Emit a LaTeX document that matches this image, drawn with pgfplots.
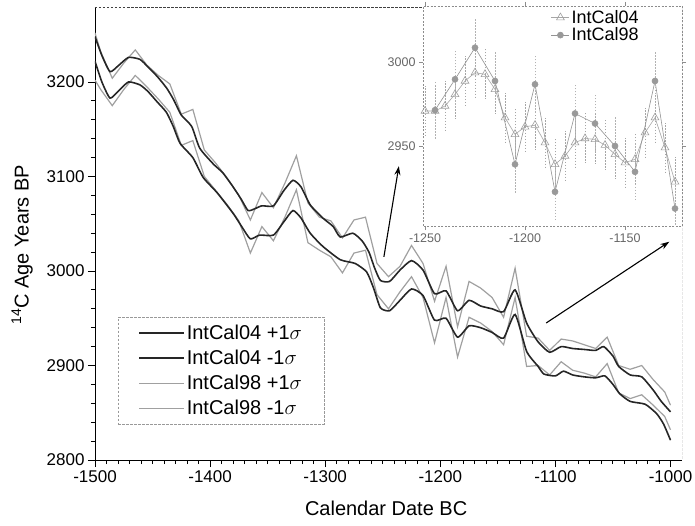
\documentclass[border=0pt]{standalone}
\usepackage{fontspec}
\setmainfont{Liberation Sans}
\usepackage{pgfplots}
\pgfplotsset{compat=1.18}
\usetikzlibrary{arrows.meta}

\definecolor{darkline}{HTML}{262626}
\definecolor{grayline}{HTML}{A0A0A0}
\definecolor{insetgray}{HTML}{8C8C8C}

\begin{document}
\begin{tikzpicture}
\useasboundingbox (-95pt,-65pt) rectangle (600pt,460pt);
\begin{axis}[
  at={(0pt,0pt)}, anchor=south west,
  scale only axis, width=587pt, height=453pt,
  xmin=-1500, xmax=-990, ymin=2800, ymax=3279.4,
  axis lines=left, axis line style={-, black, line width=0.9pt},
  tick align=outside,
  xtick={-1500,-1400,...,-1000},
  ytick={2800,2900,...,3200},
  minor x tick num=9, minor y tick num=4,
  major tick length=7pt, minor tick length=4pt,
  tick style={black, line width=0.9pt},
  minor tick style={black, line width=0.9pt},
  tick label style={font=\fontsize{17}{20}\selectfont},
  /pgf/number format/assume math mode=true,
  /pgf/number format/set thousands separator={},
  xlabel={Calendar Date BC},
  ylabel={\textsuperscript{14}C Age Years BP},
  label style={font=\fontsize{20}{24}\selectfont},
  xlabel style={at={(axis description cs:0.496,-0.106)}, anchor=center},
  ylabel style={at={(axis description cs:-0.124,0.475)}, anchor=center},
  legend style={at={(0.0392,0.3157)}, anchor=north west,
    draw=gray!80, dash pattern=on 2.5pt off 1.5pt,
    font=\fontsize{20}{23}\selectfont, row sep=5pt,
    inner xsep=20pt, inner ysep=6pt, fill=white},
  legend cell align=left,
  legend image code/.code={\draw[#1] (0pt,0pt) -- (45pt,0pt);},
]
% IntCal98 +1 sigma
\addplot[solid, grayline, line width=1.2pt, forget plot] table {
x y
-1500 3252
-1495 3232
-1485 3204
-1475 3220
-1465 3234
-1455 3218
-1445 3207
-1435 3198
-1425 3166
-1415 3171
-1405 3128
-1395 3114
-1385 3098
-1375 3080
-1365 3054
-1355 3083
-1345 3067
-1335 3093
-1325 3122
-1315 3072
-1305 3057
-1295 3053
-1285 3035
-1275 3054
-1265 3057
-1255 3008
-1245 2994
-1235 3005
-1225 3027
-1215 3008
-1205 2968
-1195 3005
-1185 2941
-1175 2989
-1165 2982
-1155 2972
-1145 2951
-1135 3003
-1125 2931
-1115 2929
-1105 2916
-1095 2928
-1085 2926
-1075 2922
-1065 2918
-1055 2930
-1045 2900
-1035 2896
-1025 2900
-1015 2885
-1005 2872
-1000 2858
};
% IntCal98 -1 sigma
\addplot[solid, grayline, line width=1.2pt, forget plot] table {
x y
-1500 3202
-1495 3192
-1485 3175
-1475 3192
-1465 3207
-1455 3195
-1445 3182
-1435 3168
-1425 3133
-1415 3138
-1405 3100
-1395 3085
-1385 3070
-1375 3053
-1365 3019
-1355 3047
-1345 3032
-1335 3057
-1325 3086
-1315 3030
-1305 3022
-1295 3015
-1285 2998
-1275 3019
-1265 3022
-1255 2975
-1245 2960
-1235 2978
-1225 2994
-1215 2972
-1205 2924
-1195 2972
-1185 2909
-1175 2951
-1165 2945
-1155 2936
-1145 2922
-1135 2972
-1125 2899
-1115 2900
-1105 2890
-1095 2904
-1085 2895
-1075 2892
-1065 2888
-1055 2902
-1045 2871
-1035 2865
-1025 2869
-1015 2858
-1005 2846
-1000 2832
};
% IntCal04 +1 sigma
\addplot[solid, darkline, line width=1.6pt, smooth, tension=0.35, forget plot] table {
x y
-1500 3248
-1494 3228
-1487 3211
-1480 3217
-1471 3226
-1461 3224
-1454 3216
-1446 3206
-1438 3194
-1432 3182
-1425 3165
-1416 3153
-1409 3130
-1397 3113
-1389 3104
-1380 3089
-1373 3076
-1367 3064
-1361 3066
-1355 3069
-1345 3069
-1336 3085
-1328 3096
-1321 3089
-1313 3070
-1302 3056
-1293 3047
-1287 3036
-1276 3040
-1268 3032
-1262 3020
-1257 3003
-1252 2990
-1244 2989
-1235 3001
-1225 3011
-1215 3001
-1205 2976
-1195 2979
-1185 2958
-1175 2969
-1165 2963
-1155 2960
-1145 2957
-1135 2980
-1125 2945
-1115 2925
-1105 2914
-1095 2920
-1085 2918
-1075 2917
-1065 2916
-1058 2920
-1050 2910
-1045 2899
-1035 2890
-1025 2888
-1015 2874
-1008 2862
-1000 2851
};
% IntCal04 -1 sigma
\addplot[solid, darkline, line width=1.6pt, smooth, tension=0.35, forget plot] table {
x y
-1500 3222
-1494 3200
-1487 3183
-1480 3190
-1471 3200
-1461 3197
-1454 3190
-1446 3179
-1438 3168
-1432 3153
-1426 3135
-1415 3120
-1406 3099
-1394 3083
-1380 3061
-1372 3046
-1365 3034
-1357 3038
-1345 3038
-1336 3052
-1328 3064
-1321 3056
-1313 3040
-1302 3026
-1287 3012
-1274 3008
-1264 2999
-1258 2982
-1252 2961
-1244 2958
-1235 2969
-1225 2981
-1215 2974
-1205 2948
-1195 2950
-1185 2930
-1175 2942
-1165 2940
-1155 2935
-1145 2929
-1135 2954
-1125 2915
-1115 2899
-1110 2891
-1100 2889
-1093 2894
-1085 2890
-1075 2888
-1065 2887
-1057 2889
-1050 2880
-1044 2870
-1035 2862
-1022 2859
-1012 2849
-1006 2838
-1000 2821
};
\addlegendimage{solid, darkline, line width=1.6pt}
\addlegendentry{IntCal04 +1$\sigma$}
\addlegendimage{solid, darkline, line width=1.6pt}
\addlegendentry{IntCal04 -1$\sigma$}
\addlegendimage{solid, grayline, line width=1.2pt}
\addlegendentry{IntCal98 +1$\sigma$}
\addlegendimage{solid, grayline, line width=1.2pt}
\addlegendentry{IntCal98 -1$\sigma$}
\draw[black!75, dash pattern=on 2.5pt off 1.5pt, line width=0.8pt] (rel axis cs:0,1) -- (rel axis cs:1,1) -- (rel axis cs:1,0);
\draw[-{Stealth[length=9pt,width=6pt]}, line width=1.1pt, black] (axis cs:-1249,3015) -- (axis cs:-1236,3111);
\draw[-{Stealth[length=9pt,width=6pt]}, line width=1.1pt, black] (axis cs:-1108,2945) -- (axis cs:-1001,3031);
\end{axis}

\begin{axis}[
  at={(328pt,234pt)}, anchor=south west,
  scale only axis, width=259pt, height=220pt,
  xmin=-1251, xmax=-1121.5, ymin=2902, ymax=3034,
  axis line style={insetgray, dash pattern=on 2pt off 1.5pt, line width=0.7pt},
  axis background/.style={fill=white},
  xtick={-1250,-1200,-1150}, ytick={2950,3000},
  tick align=outside, major tick length=4pt,
  tick style={insetgray, solid, line width=0.6pt},
  tick label style={font=\fontsize{12.5}{15}\selectfont, text=black!60},
  /pgf/number format/assume math mode=true,
  /pgf/number format/set thousands separator={},
  legend style={at={(0.49,0.995)}, anchor=north west, draw=none, fill=none,
    font=\fontsize{18}{21}\selectfont, row sep=-1pt, inner sep=1pt},
  legend cell align=left,
  legend image code/.code={\draw[mark repeat=2,mark phase=2,#1] plot coordinates {(0pt,0pt) (9pt,0pt) (18pt,0pt)};},
]
\addplot[solid, gray!70, line width=0.6pt, mark=triangle, mark size=4.5pt,
  mark options={solid, fill=white, draw=gray!75, line width=0.6pt},
  error bars/.cd, y dir=both, y explicit, error mark=none,
  error bar style={dash pattern=on 1.5pt off 1.5pt, gray!70, line width=0.6pt}]
  table[x=x, y=y, y error=e] {
x y e
-1250 2971 15
-1245 2971 15
-1240 2974 15
-1235 2981 15
-1230 2989 15
-1225 2994 15
-1220 2993 15
-1215 2984 15
-1210 2967 15
-1205 2957 15
-1200 2961.5 15
-1195 2962.5 15
-1190 2952 15
-1185 2939 15
-1180 2944 15
-1175 2952 15
-1170 2954.5 15
-1165 2954 15
-1160 2950.5 15
-1155 2945 15
-1150 2940 15
-1145 2942 15
-1140 2958 15
-1135 2967 15
-1130 2949 15
-1125 2928.5 15
};
\addlegendentry{IntCal04}
\addplot[solid, gray!85, line width=0.6pt, mark=*, mark size=3pt,
  mark options={solid, fill=gray!80, draw=gray!80},
  error bars/.cd, y dir=both, y explicit, error mark=none,
  error bar style={dash pattern=on 1.5pt off 1.5pt, gray!60, line width=0.6pt}]
  table[x=x, y=y, y error=e] {
x y e
-1245 2971.5 18
-1235 2990 18
-1225 3009 18
-1215 2989 18
-1205 2939 18
-1195 2987 18
-1185 2922.5 18
-1175 2969.5 18
-1165 2963.5 18
-1155 2950 18
-1145 2934.5 18
-1135 2989 18
-1125 2912.5 18
};
\addlegendentry{IntCal98}
\end{axis}
\end{tikzpicture}
\end{document}
